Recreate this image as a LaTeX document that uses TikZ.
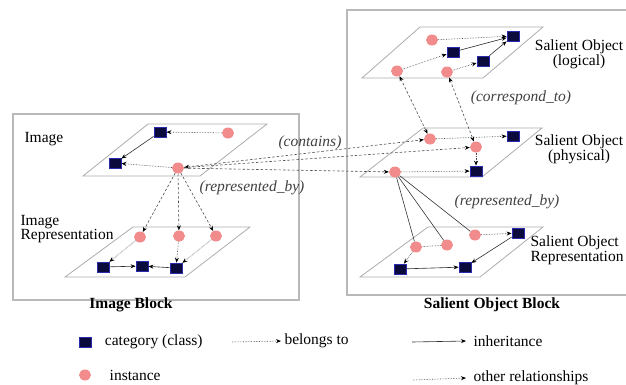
\documentclass[tikz,border=0pt]{standalone}
\usepackage{fontspec}
\setmainfont{Liberation Serif}
\usepackage{xcolor}
\usepackage{tikz}
\usetikzlibrary{
  positioning,
  arrows.meta,
  shapes.geometric,
}
\definecolor{catfill}{HTML}{0A0A3C}
\definecolor{catline}{HTML}{2A2AB0}
\definecolor{instfill}{HTML}{F28C8C}
\newcommand{\txtsize}{\fontsize{15.5}{13}\selectfont}
\tikzset{
  block/.style={
    draw=gray!55,
    line width=1.3pt
  },
  plane/.style={
    draw=gray!65,
    line width=0.8pt
  },
  cat/.style={
    rectangle,
    fill=catfill,
    draw=catline,
    line width=0.8pt,
    minimum width=12pt,
    minimum height=10pt,
    inner sep=0pt
  },
  inst/.style={
    ellipse,
    fill=instfill,
    minimum width=12pt,
    minimum height=11pt,
    inner sep=0pt
  },
  tip/.style={
    -{Stealth[length=5pt,width=4pt,color=black]}
  },
  backtip/.style={
    {Stealth[length=5pt,width=4pt,color=black]}-{Stealth[length=5pt,width=4pt,color=black]}
  },
  belongs/.style={
    tip,
    gray!60!black,
    densely dotted,
    line width=0.6pt
  },
  inherit/.style={
    tip,
    gray!35!black,
    line width=0.6pt
  },
  other/.style={
    tip,
    gray!60!black,
    dash pattern=on 2.5pt off 2pt,
    line width=0.6pt
  },
  rel/.style={
    font=\txtsize\itshape,
    text=black!75
  }
}

\begin{document}
\begin{tikzpicture}[x=1pt, y=-1pt, font=\txtsize]
  \useasboundingbox (0,0) rectangle (626,384);

  %% Blocks
  \draw[block] (13,114) rectangle (299,300);
  \draw[block] (626,10) -- (347,10) -- (347,295) -- (626,295);
  \node[font=\txtsize\bfseries] (imgblock) at (131,305) {Image Block};
  \node[font=\txtsize\bfseries] (soblock) at (492,305) {Salient Object Block};

  %% Image
  \draw[plane] (83,176) -- (200,176) -- (267,124) -- (148,124) -- cycle;
  \node[anchor=west] (imglbl) at (21,139) {Image};
  \node[cat]  (ic1) at (160,132) {};
  \node[inst] (ii1) at (228,133) {};
  \node[cat]  (ic2) at (115,163) {};
  \node[inst] (ii2) at (178,168) {};

  \draw[belongs] (ii1) -- (ic1);
  \draw[inherit] (ic1) -- (ic2);
  \draw[belongs] (ii2) -- (ic2);

  %% Image Representation
  \draw[plane] (65,277) -- (185,277) -- (250,227) -- (133,227) -- cycle;
  \node[anchor=west, align=left] (replbl) at (17,229) {Image\\Representation};
  \node[inst] (ri1) at (140,237) {};
  \node[inst] (ri2) at (179,236) {};
  \node[inst] (ri3) at (216,236) {};
  \node[cat]  (rc1) at (103,267) {};
  \node[cat]  (rc2) at (142,266) {};
  \node[cat]  (rc3) at (176,268) {};

  \draw[other] (ii2) -- (ri1);
  \draw[other] (ii2) -- (ri2);
  \draw[other] (ii2) -- (ri3);
  \draw[belongs] (ri1) -- (rc1);
  \draw[belongs] (ri2) -- (rc3);
  \draw[belongs] (ri3) -- (rc3);
  \draw[inherit] (rc1) -- (rc2);
  \draw[inherit] (rc3) -- (rc2);
  \node[rel] (repby) at (252,188) {(represented\_by)};

  %% Salient Object (logical)
  \draw[plane] (362,78) -- (483,78) -- (543,27) -- (420,27) -- cycle;
  \node[align=center] (loglbl) at (579,54) {Salient Object\\(logical)};
  \node[inst] (li1) at (432,40) {};
  \node[cat]  (lc1) at (513,36) {};
  \node[cat]  (lc2) at (453,52) {};
  \node[cat]  (lc3) at (483,61) {};
  \node[inst] (li2) at (397,71) {};
  \node[inst] (li3) at (447,72) {};

  \draw[belongs] (li1) -- (lc1);
  \draw[belongs] (li2) -- (lc2);
  \draw[belongs] (li3) -- (lc3);
  \draw[inherit] (lc2) -- (lc1);
  \draw[inherit] (lc3) -- (lc1);

  %% Salient Object (physical)
  \draw[plane] (360,177) -- (482,177) -- (542,128) -- (423,128) -- cycle;
  \node[align=center] (phylbl) at (579,149) {Salient Object\\(physical)};
  \node[inst] (pi1) at (430,139) {};
  \node[cat]  (pc1) at (513,136) {};
  \node[inst] (pi2) at (476,147) {};
  \node[cat]  (pc2) at (476,171) {};
  \node[inst] (pi3) at (395,172) {};

  \draw[belongs] (pi1) -- (pc1);
  \draw[belongs] (pi2) -- (pc2);
  \draw[belongs] (pi3) -- (pc2);

  \draw[other, backtip] (li2) -- (pi1);
  \draw[other, backtip] (li3) -- (pi2);
  \node[rel] (corr) at (521,98) {(correspond\_to)};

  %% contains
  \draw[other, backtip] (ii2) -- (pi1);
  \draw[other] (ii2) -- (pi2);
  \draw[other] (ii2) -- (pi3);
  \node[rel] (cont) at (310,143) {(contains)};

  %% Salient Object Representation
  \draw[plane] (360,277) -- (480,277) -- (543,227) -- (428,227) -- cycle;
  \node[anchor=west, align=left] (sorlbl) at (527,250) {Salient Object\\Representation};
  \node[inst] (si1) at (475,235) {};
  \node[cat]  (sc1) at (518,233) {};
  \node[inst] (si2) at (447,245) {};
  \node[inst] (si3) at (416,247) {};
  \node[cat]  (sc2) at (400,269) {};
  \node[cat]  (sc3) at (465,267) {};

  \draw[gray!40!black, line width=0.6pt] (pi3) -- (si3);
  \draw[gray!40!black, line width=0.6pt] (pi3) -- (si2);
  \draw[gray!40!black, line width=0.6pt] (pi3) -- (si1);
  \draw[belongs] (si1) -- (sc1);
  \draw[gray!60!black, densely dotted, line width=0.6pt] (si2) -- (si3);
  \draw[belongs] (si3) -- (sc2);
  \draw[inherit] (sc1) -- (sc3);
  \draw[inherit] (sc2) -- (sc3);
  \node[rel] (repby2) at (507,202) {(represented\_by)};

  %% Legend
  \node[cat]  (lgc) at (85,342) {};
  \node[right=10pt of lgc] (lgct) {category (class)};
  \node[inst] (lgi) at (85,375) {};
  \node[right=15pt of lgi] (lgit) {instance};
  \coordinate (lgb) at (232,342);
  \node[anchor=west] (lgbt) at (281,341) {belongs to};
  \coordinate (lgh) at (412,342);
  \node[anchor=west] (lght) at (470,341) {inheritance};
  \coordinate (lgo) at (413,380);
  \node[anchor=west] (lgot) at (470,378) {other relationships};

  \draw[belongs] (lgb) -- (lgbt.west);
  \draw[inherit] (lgh) -- ([xshift=-4pt]lght.west);
  \draw[belongs] (lgo) -- ([xshift=-4pt]lgot.west);
\end{tikzpicture}
\end{document}
